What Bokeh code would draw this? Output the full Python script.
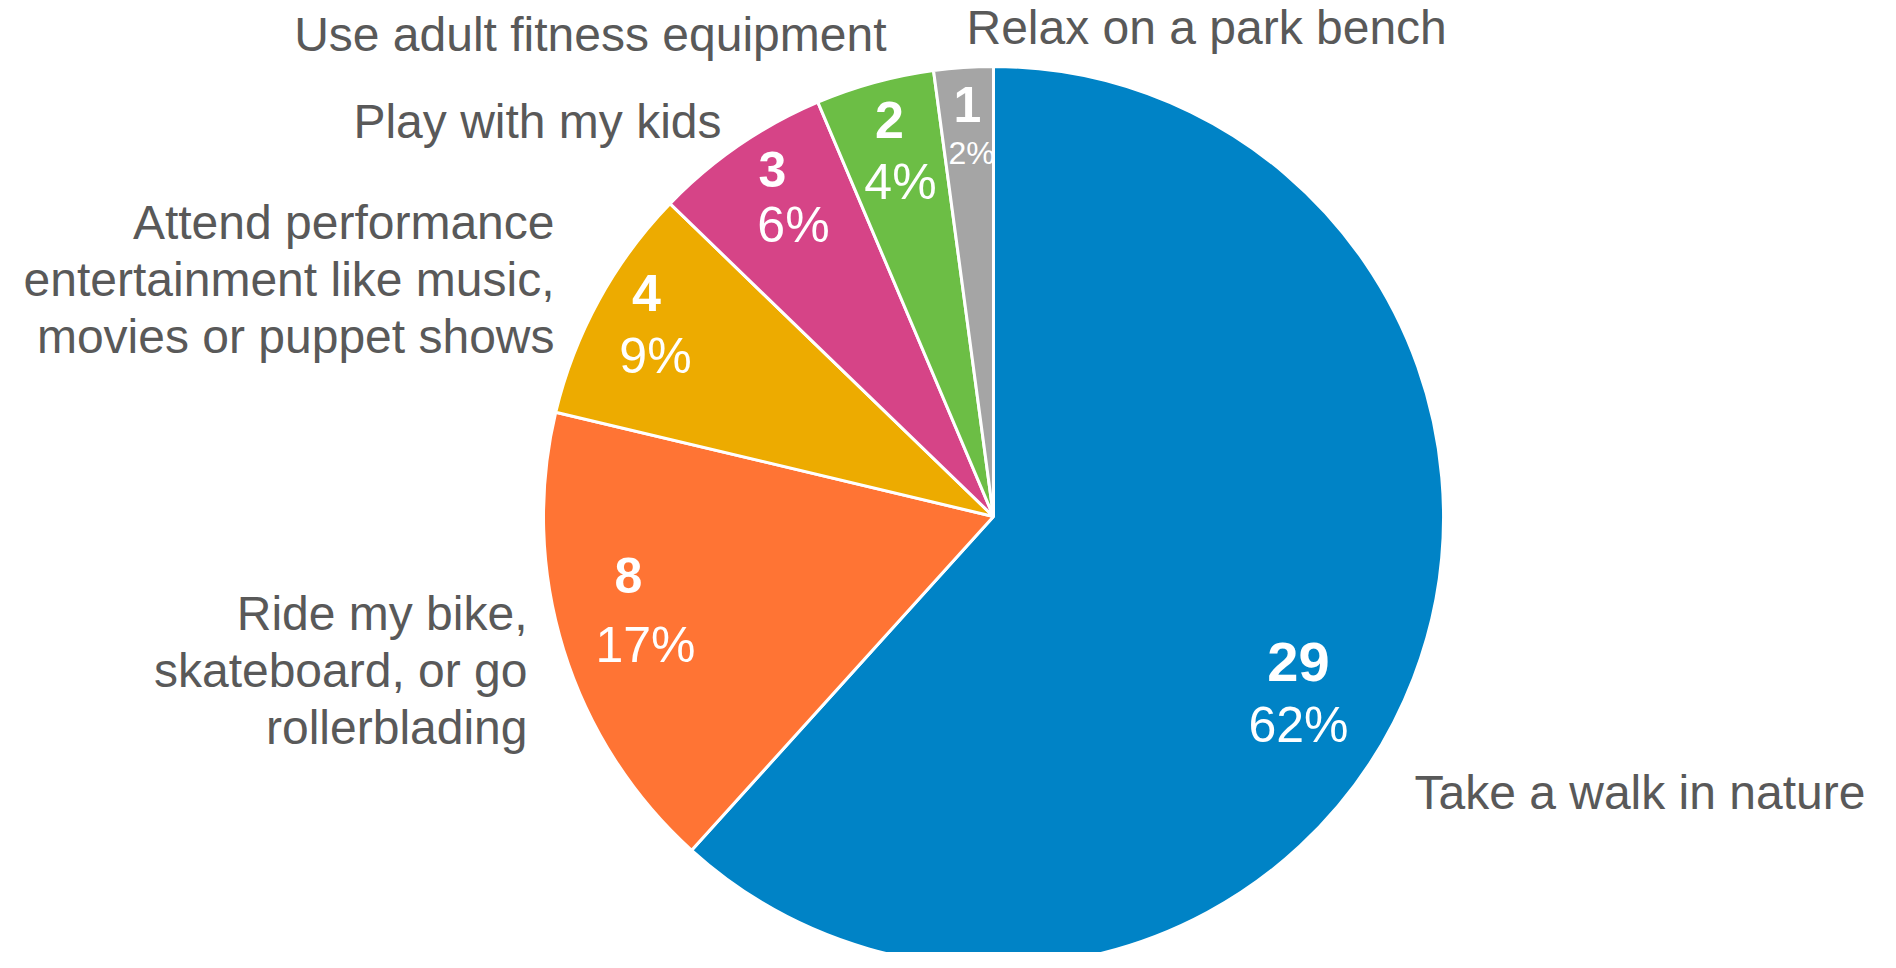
import math
from bokeh.plotting import figure
from bokeh.models import ColumnDataSource, Range1d
from bokeh.core.properties import value
from bokeh.embed import file_html
from bokeh.resources import INLINE

# ---------------- data ----------------
categories = [
    "Take a walk in nature",
    "Ride my bike, skateboard, or go rollerblading",
    "Attend performance entertainment like music, movies or puppet shows",
    "Play with my kids",
    "Use adult fitness equipment",
    "Relax on a park bench",
]
category_lines = [
    ["Take a walk in nature"],
    ["Ride my bike,", "skateboard, or go", "rollerblading"],
    ["Attend performance", "entertainment like music,", "movies or puppet shows"],
    ["Play with my kids"],
    ["Use adult fitness equipment"],
    ["Relax on a park bench"],
]
counts = [29, 8, 4, 3, 2, 1]
colors = ["#0083C6", "#FF7434", "#EDAB00", "#D64487", "#6CBE45", "#A5A5A5"]

# ---------------- layout (screen pixels of the 1896x968 page) ----------------
W, H = 1896, 968
CX, CY, R = 1001, 524, 450
TEXT_GRAY = "#595959"
FONT = "Liberation Sans"
CAT_SIZE = 48
LINE_H = 57
# (x, first baseline y, align) for the category labels
cat_anchor = [
    (1422, 800, "left"),
    (535, 621, "right"),
    (562, 230, "right"),
    (729, 129, "right"),
    (894, 42, "right"),
    (974, 35, "left"),
]
# centre of the count label and the percent label (screen px)
num_pos = [(1306, 649), (636, 565), (654, 282), (780, 159), (897, 109), (975, 94)]
pct_pos = [(1306, 715), (653, 635), (663, 346), (801, 215), (908, 172), (979, 149)]
num_size = [56, 50, 52, 50, 52, 50]
pct_size = [50, 50, 50, 50, 50, 32]


def ydata(y_screen):
    return H - y_screen


p = figure(
    width=W - 16, height=H - 16,
    x_range=Range1d(8, W - 8), y_range=Range1d(8, H - 8),
    output_backend="svg", toolbar_location=None,
    x_axis_location=None, y_axis_location=None,
    min_border=0, outline_line_color=None,
)
p.grid.visible = False
p.background_fill_color = "white"
p.border_fill_color = "white"

total = sum(counts)
starts, ends = [], []
acc = 0.0
for c in counts:
    th0 = acc / total * 2 * math.pi
    acc += c
    th1 = acc / total * 2 * math.pi
    starts.append(math.pi / 2 - th0)
    ends.append(math.pi / 2 - th1)

wsrc = ColumnDataSource(dict(
    x=[CX] * len(counts), y=[ydata(CY)] * len(counts),
    start=starts, end=ends, color=colors, cat=categories, count=counts,
))
p.wedge(x="x", y="y", radius=R, start_angle="start", end_angle="end",
        direction="clock", fill_color="color", line_color="white",
        line_width=3, source=wsrc)

# count + percent labels
pcts = [f"{round(c / total * 100)}%" for c in counts]
nsrc = ColumnDataSource(dict(
    x=[q[0] for q in num_pos],
    y=[ydata(q[1] + 0.358 * s) for q, s in zip(num_pos, num_size)],
    t=[str(c) for c in counts],
    fs=[f"{s}px" for s in num_size],
))
p.text(x="x", y="y", text="t", text_font_size="fs", text_font=value(FONT),
       text_font_style="bold", text_color="white", text_align="center",
       text_baseline="alphabetic", source=nsrc)
psrc = ColumnDataSource(dict(
    x=[q[0] for q in pct_pos],
    y=[ydata(q[1] + 0.358 * s) for q, s in zip(pct_pos, pct_size)],
    t=pcts,
    fs=[f"{s}px" for s in pct_size],
))
p.text(x="x", y="y", text="t", text_font_size="fs", text_font=value(FONT),
       text_color="white", text_align="center", text_baseline="alphabetic",
       source=psrc)

# category labels
for lines, (ax, ay, al) in zip(category_lines, cat_anchor):
    xs, ys, ts = [], [], []
    for i, ln in enumerate(lines):
        xs.append(ax)
        ys.append(ydata(ay + i * LINE_H))
        ts.append(ln)
    p.text(x=xs, y=ys, text=ts, text_font_size=f"{CAT_SIZE}px",
           text_font=value(FONT), text_color=TEXT_GRAY, text_align=al,
           text_baseline="alphabetic")

open("out.html", "w").write(file_html(p, INLINE))
